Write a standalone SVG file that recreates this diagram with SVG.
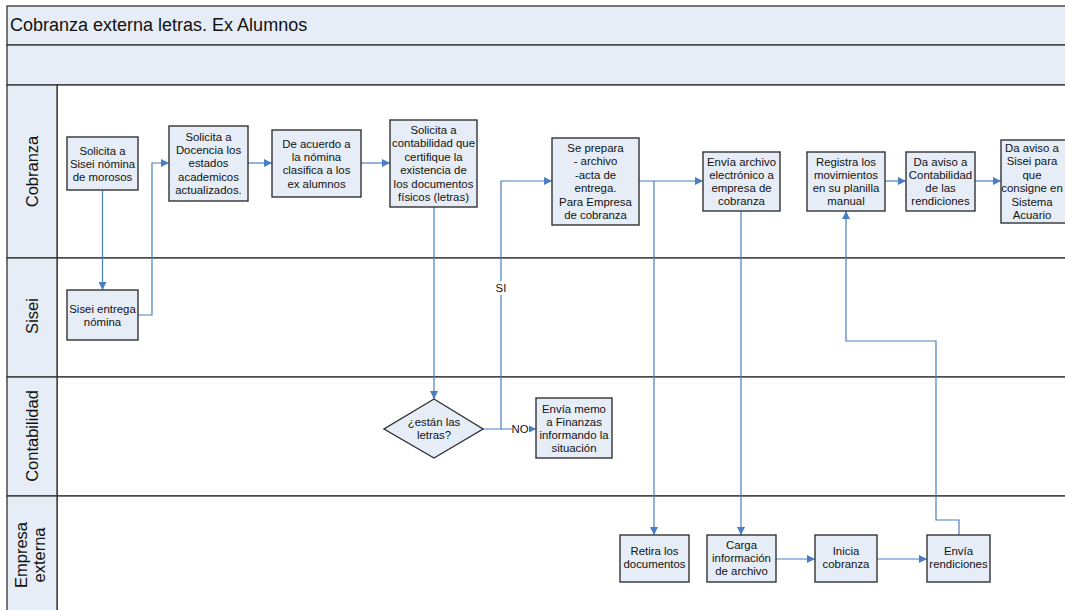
<svg xmlns="http://www.w3.org/2000/svg" width="1065" height="610" viewBox="0 0 1065 610">
<style>
.band{fill:#E6EDF7;stroke:#333;stroke-width:1.3}
.body{fill:#FFFFFF;stroke:#333;stroke-width:1.3}
.box{fill:#E6EDF7;stroke:#333;stroke-width:1.4}
.t{font-family:"Liberation Sans",Arial,sans-serif;font-size:11.4px;fill:#111;text-anchor:middle}
.lane{font-family:"Liberation Sans",Arial,sans-serif;font-size:16.5px;fill:#111;text-anchor:middle}
.title{font-family:"Liberation Sans",Arial,sans-serif;font-size:18px;fill:#111}
.c{fill:none;stroke:#4A7EC4;stroke-width:1.2;marker-end:url(#arr)}
.lbl{font-family:"Liberation Sans",Arial,sans-serif;font-size:11.4px;fill:#111;text-anchor:middle}
</style>
<defs>
<marker id="arr" markerWidth="8" markerHeight="8" refX="8" refY="4" orient="auto" markerUnits="userSpaceOnUse">
<path d="M0,0 L8,4 L0,8 z" fill="#4A7EC4"/>
</marker>
</defs>
<rect x="0" y="0" width="1065" height="610" fill="#FFFFFF"/>
<g id="pool">
<rect class="band" x="7" y="6" width="1070" height="39"/>
<text class="title" x="10" y="30.5">Cobranza externa letras. Ex Alumnos</text>
<rect class="band" x="7" y="45" width="1070" height="40"/>
</g>
<g id="lane-cobranza">
<rect class="body" x="57" y="85" width="1020" height="173"/>
<rect class="band" x="7" y="85" width="50" height="173"/>
<text class="lane" transform="translate(38,171.5) rotate(-90)">Cobranza</text>
</g>
<g id="lane-sisei">
<rect class="body" x="57" y="258" width="1020" height="119"/>
<rect class="band" x="7" y="258" width="50" height="119"/>
<text class="lane" transform="translate(38,316) rotate(-90)">Sisei</text>
</g>
<g id="lane-contabilidad">
<rect class="body" x="57" y="377" width="1020" height="119"/>
<rect class="band" x="7" y="377" width="50" height="119"/>
<text class="lane" transform="translate(38,436) rotate(-90)">Contabilidad</text>
</g>
<g id="lane-empresa">
<rect class="body" x="57" y="496" width="1020" height="130"/>
<rect class="band" x="7" y="496" width="50" height="130"/>
<text class="lane" transform="translate(27,555) rotate(-90)">Empresa</text>
<text class="lane" transform="translate(45,555) rotate(-90)">externa</text>
</g>
<g id="connectors">
<path class="c" d="M102.5,190 V290"/>
<path class="c" d="M138,315 H152 V163 H169"/>
<path class="c" d="M248,163 H272"/>
<path class="c" d="M361,163 H390"/>
<path class="c" d="M434,207 V399"/>
<path class="c" d="M483,429 H501 V181 H552"/>
<path class="c" d="M501,429 H536"/>
<path class="c" d="M639,181 H703"/>
<path class="c" d="M654,181 V535"/>
<path class="c" d="M741,211 V535"/>
<path class="c" d="M776,559 H815"/>
<path class="c" d="M877,559 H927"/>
<path class="c" d="M959,535 V520 H936 V341 H846 V211"/>
<path class="c" d="M885,181 H906"/>
<path class="c" d="M975,181 H1001"/>
<rect x="493" y="281" width="16" height="14" fill="#FFFFFF"/>
<text class="lbl" x="501" y="292">SI</text>
<rect x="512" y="423" width="17" height="12" fill="#FFFFFF"/>
<text class="lbl" x="520" y="433">NO</text>
</g>
<g id="n1">
<rect class="box" x="67" y="137" width="71" height="53"/>
<text class="t"><tspan x="102.5" y="154.5">Solicita a</tspan><tspan x="102.5" y="167.5">Sisei nómina</tspan><tspan x="102.5" y="180.5">de morosos</tspan></text>
</g>
<g id="n2">
<rect class="box" x="169" y="126" width="79" height="75"/>
<text class="t"><tspan x="208.5" y="141">Solicita a</tspan><tspan x="208.5" y="154.2">Docencia los</tspan><tspan x="208.5" y="167.4">estados</tspan><tspan x="208.5" y="180.6">academicos</tspan><tspan x="208.5" y="193.8">actualizados.</tspan></text>
</g>
<g id="n3">
<rect class="box" x="272" y="130" width="89" height="67"/>
<text class="t"><tspan x="316.5" y="148">De acuerdo a</tspan><tspan x="316.5" y="161.2">la nómina</tspan><tspan x="316.5" y="174.4">clasifica a los</tspan><tspan x="316.5" y="187.6">ex alumnos</tspan></text>
</g>
<g id="n4">
<rect class="box" x="390" y="120" width="87" height="87"/>
<text class="t"><tspan x="433.5" y="134">Solicita a</tspan><tspan x="433.5" y="147.4">contabilidad que</tspan><tspan x="433.5" y="160.8">certifique la</tspan><tspan x="433.5" y="174.2">existencia de</tspan><tspan x="433.5" y="187.6">los documentos</tspan><tspan x="433.5" y="201">físicos (letras)</tspan></text>
</g>
<g id="n5">
<rect class="box" x="552" y="138" width="87" height="87"/>
<text class="t"><tspan x="595.5" y="152">Se prepara</tspan><tspan x="595.5" y="165.4">- archivo</tspan><tspan x="595.5" y="178.8">-acta de</tspan><tspan x="595.5" y="192.2">entrega.</tspan><tspan x="595.5" y="205.6">Para Empresa</tspan><tspan x="595.5" y="219">de cobranza</tspan></text>
</g>
<g id="n6">
<rect class="box" x="703" y="152" width="77" height="59"/>
<text class="t"><tspan x="741.5" y="165.5">Envía archivo</tspan><tspan x="741.5" y="178.7">electrónico a</tspan><tspan x="741.5" y="191.9">empresa de</tspan><tspan x="741.5" y="205.1">cobranza</tspan></text>
</g>
<g id="n7">
<rect class="box" x="807" y="152" width="78" height="59"/>
<text class="t"><tspan x="846" y="165.5">Registra los</tspan><tspan x="846" y="178.7">movimientos</tspan><tspan x="846" y="191.9">en su planilla</tspan><tspan x="846" y="205.1">manual</tspan></text>
</g>
<g id="n8">
<rect class="box" x="906" y="152" width="69" height="59"/>
<text class="t"><tspan x="940.5" y="165.5">Da aviso a</tspan><tspan x="940.5" y="178.7">Contabilidad</tspan><tspan x="940.5" y="191.9">de las</tspan><tspan x="940.5" y="205.1">rendiciones</tspan></text>
</g>
<g id="n9">
<rect class="box" x="1001" y="140" width="70" height="83"/>
<text class="t"><tspan x="1032" y="152">Da aviso a</tspan><tspan x="1032" y="165.4">Sisei para</tspan><tspan x="1032" y="178.8">que</tspan><tspan x="1032" y="192.2">consigne en</tspan><tspan x="1032" y="205.6">Sistema</tspan><tspan x="1032" y="219">Acuario</tspan></text>
</g>
<g id="n10">
<rect class="box" x="67" y="290" width="71" height="50"/>
<text class="t"><tspan x="102.5" y="312.5">Sisei entrega</tspan><tspan x="102.5" y="325.5">nómina</tspan></text>
</g>
<g id="n11">
<polygon class="box" points="434,399 483,429 434,458 384,429"/>
<text class="t"><tspan x="434" y="426">¿están las</tspan><tspan x="434" y="439.2">letras?</tspan></text>
</g>
<g id="n12">
<rect class="box" x="536" y="398" width="76" height="60"/>
<text class="t"><tspan x="574" y="412.5">Envía memo</tspan><tspan x="574" y="425.7">a Finanzas</tspan><tspan x="574" y="438.9">informando la</tspan><tspan x="574" y="452.1">situación</tspan></text>
</g>
<g id="n13">
<rect class="box" x="620" y="535" width="69" height="47"/>
<text class="t"><tspan x="654.5" y="555">Retira los</tspan><tspan x="654.5" y="568.2">documentos</tspan></text>
</g>
<g id="n14">
<rect class="box" x="707" y="535" width="69" height="47"/>
<text class="t"><tspan x="741.5" y="549">Carga</tspan><tspan x="741.5" y="562.2">información</tspan><tspan x="741.5" y="575.4">de archivo</tspan></text>
</g>
<g id="n15">
<rect class="box" x="815" y="535" width="62" height="47"/>
<text class="t"><tspan x="846" y="555">Inicia</tspan><tspan x="846" y="568.2">cobranza</tspan></text>
</g>
<g id="n16">
<rect class="box" x="927" y="535" width="63" height="47"/>
<text class="t"><tspan x="958.5" y="555">Envía</tspan><tspan x="958.5" y="568.2">rendiciones</tspan></text>
</g>
</svg>
